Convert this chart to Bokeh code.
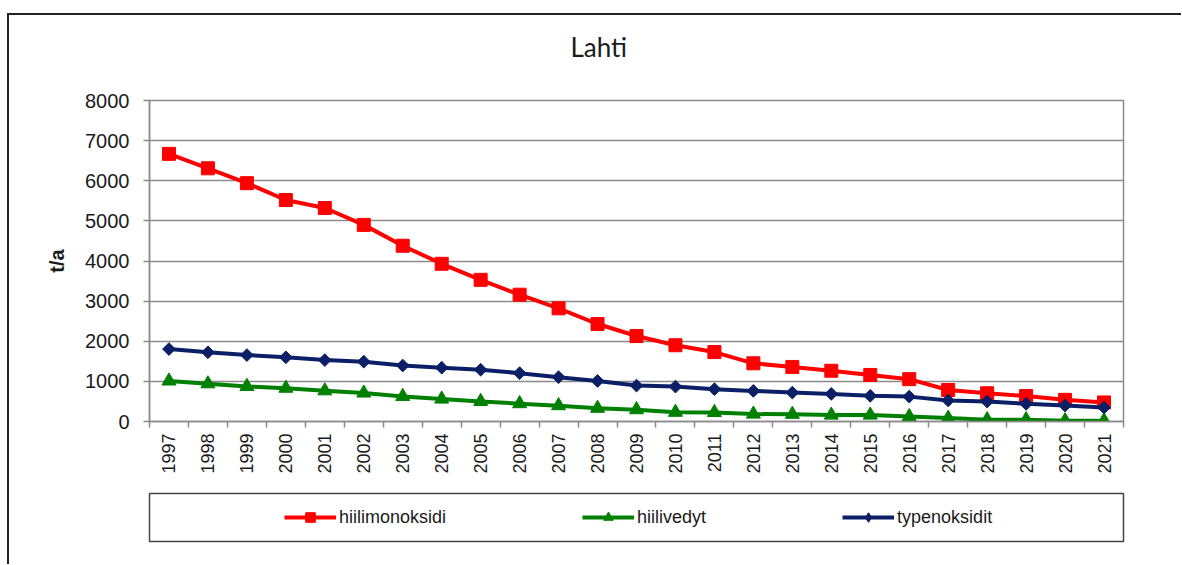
from math import pi
from bokeh.plotting import figure
from bokeh.layouts import column
from bokeh.models import (Range1d, FixedTicker, SingleIntervalTicker, Legend,
                          LegendItem, Title)
from bokeh.embed import file_html
from bokeh.resources import INLINE

# ---- data ----
years = [1997, 1998, 1999, 2000, 2001, 2002, 2003, 2004, 2005, 2006, 2007, 2008,
         2009, 2010, 2011, 2012, 2013, 2014, 2015, 2016, 2017, 2018, 2019, 2020, 2021]
hiilimonoksidi = [6670, 6310, 5940, 5520, 5320, 4900, 4380, 3930, 3530, 3160, 2820, 2430,
                  2130, 1900, 1730, 1450, 1360, 1265, 1160, 1055, 785, 705, 635, 540, 475]
hiilivedyt = [1010, 940, 875, 830, 765, 710, 625, 560, 500, 445, 395, 330,
              295, 230, 225, 185, 180, 160, 160, 125, 85, 45, 45, 20, 20]
typenoksidit = [1805, 1725, 1655, 1600, 1530, 1490, 1395, 1340, 1290, 1205, 1105, 1010,
                895, 870, 805, 763, 720, 688, 640, 620, 525, 497, 440, 398, 348]
series_names = ["hiilimonoksidi", "hiilivedyt", "typenoksidit"]
title_text = "Lahti"
y_label = "t/a"
y_max = 8000
y_step = 1000

GRAY = "#8a8a8a"
TXT = "#1a1a1a"

# ---- main chart ----
p = figure(width=1172, height=475, output_backend="svg", toolbar_location=None,
           x_range=Range1d(years[0] - 0.5, years[-1] + 0.5),
           y_range=Range1d(0, y_max),
           min_border_left=140, min_border_right=58,
           min_border_top=85, min_border_bottom=69)
p.title = Title(text=title_text, align="left", offset=421, standoff=0,
                text_font="Lato", text_font_size="26px", text_font_style="normal",
                text_color=TXT)
# blank spacer panel between the title and the plot area
p.add_layout(Title(text=" ", standoff=4, text_font="Lato", text_font_size="26px"),
             "above")
p.background_fill_color = "white"
p.border_fill_color = "white"
p.outline_line_color = GRAY
p.outline_line_width = 1.5

# x axis
p.xaxis.ticker = FixedTicker(ticks=years,
                             minor_ticks=[y - 0.5 for y in years] + [years[-1] + 0.5])
p.xaxis.major_label_overrides = {y: str(y) for y in years}
p.xaxis.major_label_orientation = pi / 2
p.xaxis.major_tick_out = 0
p.xaxis.major_tick_in = 0
p.xaxis.minor_tick_out = 6
p.xaxis.minor_tick_in = 0
p.xaxis.minor_tick_line_color = GRAY
p.xaxis.minor_tick_line_width = 1.5
p.xaxis.axis_line_color = GRAY
p.xaxis.axis_line_width = 1.5
p.xaxis.major_label_text_font = "Liberation Sans"
p.xaxis.major_label_text_font_size = "18px"
p.xaxis.major_label_text_color = TXT
p.xaxis.major_label_standoff = 6
p.xgrid.visible = False

# y axis
p.yaxis.ticker = SingleIntervalTicker(interval=y_step, num_minor_ticks=0)
p.yaxis.major_tick_out = 6
p.yaxis.major_tick_in = 0
p.yaxis.major_tick_line_color = GRAY
p.yaxis.major_tick_line_width = 1.5
p.yaxis.minor_tick_line_color = None
p.yaxis.axis_line_color = GRAY
p.yaxis.axis_line_width = 1.5
p.yaxis.major_label_text_font = "Liberation Sans"
p.yaxis.major_label_text_font_size = "20px"
p.yaxis.major_label_text_color = TXT
p.yaxis.major_label_standoff = 14
p.yaxis.axis_label = y_label
p.yaxis.axis_label_text_font = "Liberation Sans"
p.yaxis.axis_label_text_font_size = "20px"
p.yaxis.axis_label_text_font_style = "bold"
p.yaxis.axis_label_text_color = TXT
p.yaxis.axis_label_standoff = 14
p.ygrid.grid_line_color = GRAY
p.ygrid.grid_line_width = 1.5

specs = [
    (hiilimonoksidi, "#ff0000", "square", 13, 0.0, "square"),
    (hiilivedyt, "#008000", "triangle", 14, 0.0, "triangle"),
    (typenoksidit, "#0b1f66", "square", 9, pi / 4, "diamond"),
]
for vals, col, marker, size, ang, _ in specs:
    p.line(years, vals, line_color=col, line_width=4)
    p.scatter(years, vals, marker=marker, size=size, angle=ang,
              fill_color=col, line_color=col)

# ---- legend box (separate small figure whose frame is the legend border) ----
# its ranges are 0..1 so the series drawn here stay outside its frame;
# they only supply the legend glyphs.
q = figure(width=1172, height=74, output_backend="svg", toolbar_location=None,
           x_range=Range1d(0, 1), y_range=Range1d(0, 1),
           x_axis_type=None, y_axis_type=None, title_location=None,
           min_border_left=139, min_border_right=54,
           min_border_top=3, min_border_bottom=23)
q.background_fill_color = "white"
q.border_fill_color = "white"
q.outline_line_color = "#444444"
q.outline_line_width = 1.5
q.xgrid.visible = False
q.ygrid.visible = False

items = []
for name, (vals, col, marker, size, ang, lmarker) in zip(series_names, specs):
    l = q.line(years, vals, line_color=col, line_width=4)
    s = q.scatter(years, vals, marker=lmarker, size=size,
                  fill_color=col, line_color=col)
    items.append(LegendItem(label=name, renderers=[l, s]))

legend = Legend(items=items, orientation="horizontal", location=(131, 8),
                spacing=136, padding=4, margin=0, glyph_width=52, glyph_height=24,
                label_standoff=3, border_line_alpha=0, background_fill_alpha=0,
                label_text_font="Liberation Sans", label_text_font_size="18px",
                label_text_color=TXT)
q.add_layout(legend)

layout = column(p, q, spacing=0,
                styles={"margin-left": "7px", "margin-top": "13px",
                        "border-left": "2px solid #222222",
                        "border-top": "2px solid #222222"})

open("out.html", "w").write(file_html(layout, INLINE))
